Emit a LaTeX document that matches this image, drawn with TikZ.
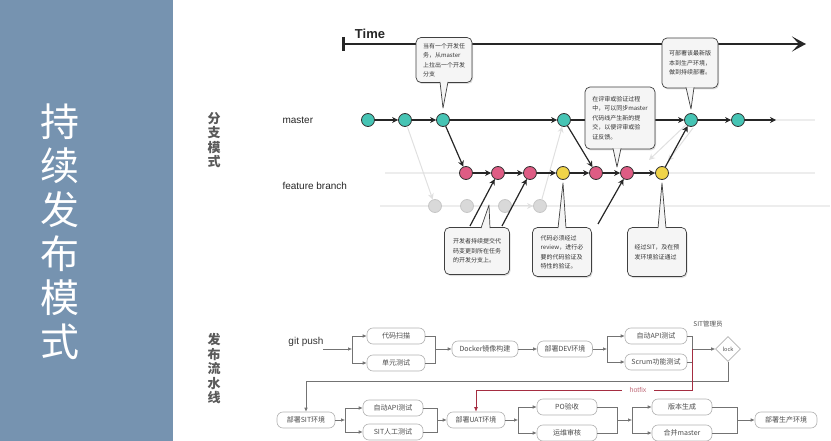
\documentclass[tikz,border=0pt]{standalone}
\usepackage{fontspec}
\setmainfont{Noto Sans CJK SC}
\setsansfont{Liberation Sans}
\usetikzlibrary{arrows.meta,positioning,shapes.geometric,shadows,calc}

\definecolor{panelblue}{RGB}{118,147,176}
\definecolor{mastercol}{RGB}{70,196,180}
\definecolor{featurecol}{RGB}{222,92,132}
\definecolor{checkcol}{RGB}{240,212,72}
\definecolor{hotfixcol}{RGB}{165,45,65}

% tail of a speech bubble: two base points and the tip
\newcommand{\calltail}[3]{%
  \fill[black!4] (#1) -- (#3) -- (#2) -- cycle;
  \draw[black!75, line width=0.7pt, line join=round] (#1) -- (#3) -- (#2);
}

\begin{document}
\begin{tikzpicture}[x=1pt, y=-1pt,
    commit/.style={circle, draw=black!80, line width=0.8pt, minimum size=13pt, inner sep=0pt},
    mcommit/.style={commit, fill=mastercol},
    fcommit/.style={commit, fill=featurecol},
    vcommit/.style={commit, fill=checkcol},
    gcommit/.style={commit, draw=black!22, fill=black!15},
    flow/.style={-{Stealth[length=6pt,width=6pt]}, line width=1.2pt, draw=black!85},
    ghost/.style={-{Stealth[length=6pt,width=6pt]}, line width=1pt, draw=black!12},
    lane/.style={line width=1.5pt, draw=black!7},
    section/.style={font={\bfseries\fontsize{13}{14.5}\selectfont\lineskiplimit -20pt\relax}, align=center, text=black!65},
    callout/.style={rectangle, rounded corners=5pt, draw=black!75, fill=black!4, line width=0.7pt,
                    drop shadow={opacity=0.25, shadow xshift=1pt, shadow yshift=-1.5pt},
                    font=\fontsize{6}{9.5}\selectfont, align=left, inner sep=4pt, text=black!80},
    stage/.style={rectangle, rounded corners=6pt, draw=black!30, line width=0.6pt, fill=white,
                  text=black!70, font=\fontsize{7}{8}\selectfont, minimum height=16pt,
                  minimum width=58pt, inner xsep=4pt},
    pipe/.style={draw=black!55, line width=0.6pt},
    pipearr/.style={pipe, -{Latex[length=4pt,width=3.5pt]}},
    hotarr/.style={draw=hotfixcol, line width=0.8pt, -{Latex[length=4.5pt,width=4pt]}}
]
    \useasboundingbox (0,0) rectangle (831,441);

    % left panel
    \fill[panelblue] (0,0) rectangle (173,441);
    \node[text=white, font=\fontsize{39}{44}\selectfont, align=center] (title) at (60,232)
        {持\\续\\发\\布\\模\\式};

    % section labels
    \node[section] (branchmode) at (214,140) {分\\支\\模\\式};
    \node[section] (pipemode) at (214,369) {发\\布\\流\\水\\线};

    % time axis
    \coordinate (tstart) at (343,44);
    \coordinate (tend) at (806,44);
    \draw[line width=2pt, black!85, -{Stealth[length=14pt,width=15pt,inset=7pt]}] (tstart) -- (tend);
    \draw[line width=3pt, black!85] ($(tstart)+(0,-7)$) -- ($(tstart)+(0,7)$);
    \node[font=\sffamily\bfseries\fontsize{13}{13}\selectfont, text=black!85] (time) at (370,34) {Time};

    % lanes
    \node[font=\sffamily\fontsize{10}{10}\selectfont, anchor=west, text=black!85] (masterlbl) at (279,120) {master};
    \node[font=\sffamily\fontsize{10}{10}\selectfont, anchor=west, text=black!85] (featurelbl) at (279,186) {feature branch};
    \coordinate (la1) at (370,120); \coordinate (la2) at (815,120);
    \coordinate (lb1) at (385,173); \coordinate (lb2) at (815,173);
    \coordinate (lc1) at (380,206); \coordinate (lc2) at (830,206);
    \draw[lane] (la1) -- (la2);
    \draw[lane] (lb1) -- (lb2);
    \draw[lane] (lc1) -- (lc2);

    % commits
    \node[mcommit] (m1) at (368,120) {};
    \node[mcommit] (m2) at (405,120) {};
    \node[mcommit] (m3) at (443,120) {};
    \node[mcommit] (m4) at (564,120) {};
    \node[mcommit] (m5) at (691,120) {};
    \node[mcommit] (m6) at (738,120) {};
    \coordinate (mend) at (776,120);

    \node[fcommit] (f1) at (466,173) {};
    \node[fcommit] (f2) at (498,173) {};
    \node[fcommit] (f3) at (530,173) {};
    \node[vcommit] (f4) at (563,173) {};
    \node[fcommit] (f5) at (596,173) {};
    \node[fcommit] (f6) at (627,173) {};
    \node[vcommit] (f7) at (662,173) {};

    \node[gcommit] (g1) at (435,206) {};
    \node[gcommit] (g2) at (467,206) {};
    \node[gcommit] (g3) at (505,206) {};
    \node[gcommit] (g4) at (540,206) {};

    % faded history
    \coordinate (ga) at (649,160);
    \coordinate (gb) at (668,161);
    \draw[ghost] (m2) -- (g1);
    \draw[ghost] (g3) -- (g4);
    \draw[ghost] (g4) -- (m4);
    \draw[ghost] (m5) -- (ga);
    \draw[ghost] ($(m5)+(2,8)$) -- (gb);

    % commit flow
    \foreach \a/\b in {m1/m2, m2/m3, m3/m4, m4/m5, m5/m6, m3/f1, f1/f2, f2/f3, f3/f4, f4/f5, f5/f6, f6/f7, m4/f5, f7/m5}
        \draw[flow] (\a) -- (\b);
    \draw[flow] (m6) -- (mend);

    % developer pushes
    \coordinate (d1) at (470,226);
    \coordinate (d2) at (502,226);
    \coordinate (d3) at (598,224);
    \draw[flow] (d1) -- (f2);
    \draw[flow] (d2) -- (f3);
    \draw[flow] (d3) -- (f6);

    % callouts
    \node[callout, minimum width=56pt, minimum height=45pt] (c1) at (444,60)
        {当有一个开发任\\务，从master\\上拉出一个开发\\分支};
    \calltail{$(c1.south)+(-4,-1)$}{$(c1.south)+(4,-1)$}{$(m3.north)+(0,-5)$}

    \node[callout, minimum width=56pt, minimum height=50pt] (c3) at (690,63)
        {可部署该最新版\\本到生产环境，\\做到持续部署。};
    \calltail{$(c3.south)+(-4,-1)$}{$(c3.south)+(4,-1)$}{$(m5.north)+(0,-4)$}

    \coordinate (t2) at (617,167);
    \node[callout, minimum width=70pt, minimum height=62pt] (c2) at (620,118)
        {在评审或验证过程\\中，可以同步master\\代码线产生新的提\\交，以便评审或验\\证反馈。};
    \calltail{$(c2.south)+(-7,-1)$}{$(c2.south)+(1,-1)$}{t2}

    \coordinate (t4) at (489,205);
    \node[callout, minimum width=65pt, minimum height=47pt] (c4) at (477,251)
        {开发者持续提交代\\码变更到所在任务\\的开发分支上。};
    \calltail{$(c4.north)+(4,1)$}{$(c4.north)+(13,1)$}{t4}

    \node[callout, minimum width=59pt, minimum height=49pt] (c5) at (562,252)
        {代码必须经过\\review，进行必\\要的代码验证及\\特性的验证。};
    \calltail{$(c5.north)+(-4,1)$}{$(c5.north)+(4,1)$}{$(f4.south)+(0,3)$}

    \node[callout, minimum width=59pt, minimum height=49pt] (c6) at (657,252)
        {经过SIT，及在预\\发环境验证通过};
    \calltail{$(c6.north)+(1,1)$}{$(c6.north)+(9,1)$}{$(f7.south)+(0,3)$}

    % release pipeline
    \node[font=\sffamily\fontsize{10}{10}\selectfont, text=black!80] (gitpush) at (306,342) {git push};
    \coordinate (gp) at (323,349);
    \coordinate (s1) at (352,349);
    \node[stage] (scan) at (396,336) {代码扫描};
    \node[stage] (unit) at (396,363) {单元测试};
    \coordinate (j1) at (435,349);
    \node[stage, minimum width=66pt] (docker) at (485,349) {Docker镜像构建};
    \node[stage, minimum width=55pt] (dev) at (565,349) {部署DEV环境};
    \coordinate (s2) at (607,349);
    \node[stage, minimum width=62pt] (api1) at (656,336) {自动API测试};
    \node[stage, minimum width=62pt] (scrum) at (656,362) {Scrum功能测试};
    \coordinate (j2) at (692,349);
    \node[diamond, draw=black!30, fill=white, line width=0.6pt, minimum size=25pt, inner sep=0pt,
          font=\fontsize{5.5}{6}\selectfont, text=black!70] (lock) at (728,349) {lock};
    \node[font=\fontsize{6.5}{7}\selectfont, text=black!70] (sitadmin) at (708,324) {SIT管理员};

    \draw[pipearr] (gp) -- (s1);
    \draw[pipearr] (s1) |- (scan);
    \draw[pipearr] (s1) |- (unit);
    \draw[pipe] (scan.east) -| (j1);
    \draw[pipe] (unit.east) -| (j1);
    \draw[pipearr] (j1) -- (docker);
    \draw[pipearr] (docker) -- (dev);
    \draw[pipearr] (dev) -- (s2);
    \draw[pipearr] (s2) |- (api1);
    \draw[pipearr] (s2) |- (scrum);
    \draw[pipe] (api1.east) -| (j2);
    \draw[pipe] (scrum.east) -| (j2);
    \draw[pipearr] (j2) -- (lock);

    \node[stage] (sit) at (306,420) {部署SIT环境};
    \coordinate (s3) at (345,420);
    \node[stage, minimum width=60pt] (api2) at (393,408) {自动API测试};
    \node[stage, minimum width=60pt] (manual) at (393,432) {SIT人工测试};
    \coordinate (j3) at (437,420);
    \node[stage] (uat) at (476,420) {部署UAT环境};
    \coordinate (s4) at (518,420);
    \node[stage, minimum width=60pt] (po) at (567,407) {PO验收};
    \node[stage, minimum width=60pt] (ops) at (567,433) {运维审核};
    \coordinate (j4) at (617,420);
    \coordinate (s5) at (632,420);
    \node[stage, minimum width=60pt] (ver) at (682,407) {版本生成};
    \node[stage, minimum width=60pt] (mrg) at (682,433) {合并master};
    \coordinate (j5) at (737,420);
    \node[stage, minimum width=62pt] (prod) at (786,420) {部署生产环境};

    % back to SIT after lock
    \coordinate (b1) at (728,381);
    \draw[pipearr] (lock.south) -- (b1) -| (sit.north);

    % hotfix shortcut
    \coordinate (h1) at (692,390);
    \draw[hotarr] (j2) -- (h1) -| node[pos=0.125, fill=white, inner xsep=8pt, inner ysep=1pt,
        text=hotfixcol!70, font=\sffamily\fontsize{7}{7}\selectfont] (hotfix) {hotfix} (uat.north);

    \draw[pipearr] (sit) -- (s3);
    \draw[pipearr] (s3) |- (api2);
    \draw[pipearr] (s3) |- (manual);
    \draw[pipe] (api2.east) -| (j3);
    \draw[pipe] (manual.east) -| (j3);
    \draw[pipearr] (j3) -- (uat);
    \draw[pipearr] (uat) -- (s4);
    \draw[pipearr] (s4) |- (po);
    \draw[pipearr] (s4) |- (ops);
    \draw[pipe] (po.east) -| (j4);
    \draw[pipe] (ops.east) -| (j4);
    \draw[pipearr] (j4) -- (s5);
    \draw[pipearr] (s5) |- (ver);
    \draw[pipearr] (s5) |- (mrg);
    \draw[pipe] (ver.east) -| (j5);
    \draw[pipe] (mrg.east) -| (j5);
    \draw[pipearr] (j5) -- (prod);
\end{tikzpicture}
\end{document}
